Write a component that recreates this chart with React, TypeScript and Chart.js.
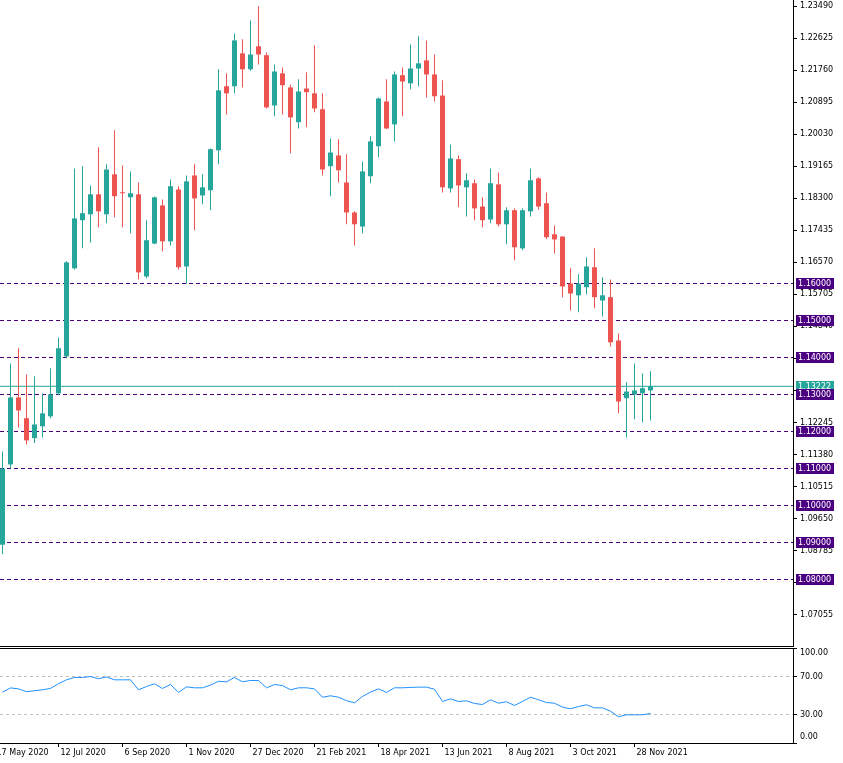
import React, { useEffect, useRef } from "react";
import { Chart, registerables } from "chart.js";

Chart.register(...registerables);

// Weekly candles, 24 May 2020 .. 12 Dec 2021 (index 0..81)
const opens = [
  1.0894, 1.1111, 1.1292, 1.1236, 1.1182, 1.1214, 1.1241, 1.1303, 1.1403, 1.1641,
  1.1771, 1.1787, 1.1841, 1.1787, 1.1895, 1.1846, 1.1833, 1.1841, 1.1619, 1.1708,
  1.1811, 1.1714, 1.1854, 1.1646, 1.1892, 1.1838, 1.1852, 1.196, 1.2133, 1.2133,
  1.2222, 1.2179, 1.2241, 1.2217, 1.2081, 1.2168, 1.213, 1.2036, 1.2127, 1.2114,
  1.2071, 1.1917, 1.1946, 1.1873, 1.1792, 1.1754, 1.189, 1.1971, 1.2092, 1.203,
  1.2163, 1.2141, 1.2181, 1.2203, 1.2165, 1.2108, 1.1857, 1.1936, 1.186, 1.1871,
  1.1808, 1.1773, 1.1868, 1.176, 1.1798, 1.1695, 1.1795, 1.1884, 1.1817, 1.1733,
  1.1727, 1.16, 1.1568, 1.159, 1.1644, 1.1554, 1.1563, 1.1446, 1.129, 1.13,
  1.1303, 1.1311,
];
const highs = [
  1.1146, 1.1384, 1.1425, 1.1354, 1.1349, 1.1303, 1.1371, 1.1454, 1.166, 1.1911,
  1.1917, 1.1865, 1.1968, 1.1922, 1.2014, 1.1919, 1.1903, 1.1873, 1.1771, 1.1835,
  1.1827, 1.1881, 1.1863, 1.1892, 1.1922, 1.1895, 1.1965, 1.2179, 1.2168, 1.2276,
  1.226, 1.2311, 1.2349, 1.2225, 1.2192, 1.2184, 1.2138, 1.2152, 1.2171, 1.2244,
  1.2114, 1.1992, 1.199, 1.1949, 1.1795, 1.193, 1.1998, 1.2103, 1.2152, 1.2173,
  1.2184, 1.2246, 1.2268, 1.2257, 1.2219, 1.2149, 1.1976, 1.1946, 1.1898, 1.1881,
  1.1833, 1.1911, 1.19, 1.1806, 1.1803, 1.1803, 1.1911, 1.1887, 1.1846, 1.1757,
  1.1727, 1.1641, 1.1625, 1.1671, 1.1695, 1.1617, 1.1611, 1.1465, 1.1333, 1.1384,
  1.1357, 1.1363,
];
const lows = [
  1.0868, 1.1101, 1.1211, 1.1165, 1.1169, 1.1184, 1.1236, 1.1298, 1.14, 1.1638,
  1.1695, 1.1711, 1.1752, 1.1763, 1.1779, 1.1752, 1.1736, 1.1611, 1.1614, 1.1706,
  1.1687, 1.1703, 1.1638, 1.16, 1.1744, 1.1814, 1.1798, 1.1922, 1.2057, 1.2114,
  1.213, 1.2175, 1.2192, 1.2073, 1.2052, 1.2057, 1.1952, 1.2019, 1.2022, 1.2063,
  1.1892, 1.1836, 1.1873, 1.176, 1.1703, 1.1736, 1.1871, 1.1941, 1.2017, 1.1984,
  1.2052, 1.2125, 1.2133, 1.2103, 1.2092, 1.1846, 1.1846, 1.1806, 1.1781, 1.1771,
  1.1752, 1.1763, 1.1754, 1.1706, 1.1663, 1.169, 1.1781, 1.18, 1.172, 1.1681,
  1.1563, 1.1527, 1.1522, 1.1571, 1.1533, 1.1511, 1.143, 1.1249, 1.1184, 1.1233,
  1.1225, 1.123,
];
const closes = [
  1.11, 1.1292, 1.1257, 1.1176, 1.1219, 1.1249, 1.13, 1.1425, 1.1657, 1.1776,
  1.179, 1.1841, 1.1795, 1.1908, 1.1836, 1.1844, 1.1844, 1.163, 1.1717, 1.1833,
  1.1714, 1.1863, 1.1644, 1.1876, 1.183, 1.186, 1.1963, 1.2122, 1.2114, 1.2257,
  1.2179, 1.2219, 1.2219, 1.2076, 1.2173, 1.2136, 1.2049, 1.2119, 1.2117, 1.2073,
  1.1908, 1.1954, 1.1906, 1.1792, 1.176, 1.1903, 1.1984, 1.21, 1.2019, 1.2165,
  1.2146, 1.2181, 1.2195, 1.2165, 1.2106, 1.186, 1.1938, 1.1865, 1.1879, 1.1803,
  1.1771, 1.1871, 1.176, 1.1798, 1.1698, 1.1798, 1.1879, 1.1808, 1.1725, 1.1719,
  1.1592, 1.1573, 1.16, 1.1646, 1.1563, 1.1568, 1.1441, 1.1281, 1.1308, 1.1311,
  1.1317, 1.13222,
];
const rsiValues = [
  53.5, 58, 57, 54, 55, 56, 57.5, 62.5, 66.5, 69,
  69, 70, 67.6, 69.6, 66.5, 66.5, 66.5, 56, 59.5, 62.3,
  57.4, 61.6, 53.2, 59.1, 58.1, 58.1, 60.9, 65, 64.4, 69,
  64.4, 65.8, 65.8, 58.1, 61.6, 60.5, 56, 58.1, 58.1, 57,
  48.2, 49.7, 48.2, 44.6, 42.3, 49, 53.5, 57, 53.2, 58.1,
  58.1, 58.5, 58.8, 58.8, 56.6, 43.7, 46.5, 43.7, 44.4, 41.6,
  40.5, 45.5, 41.9, 43.4, 39.5, 43.7, 48.2, 45.5, 42.6, 41.9,
  37.7, 36, 38.4, 40.2, 37, 37, 33.5, 27.6, 29.7, 29.7,
  29.7, 31,
];

const levelPrices = [1.16, 1.15, 1.14, 1.13, 1.12, 1.11, 1.1, 1.09, 1.08];
const currentPrice = 1.13222;
const priceTicks = [
  1.07055, 1.0792, 1.08785, 1.0965, 1.10515, 1.1138, 1.12245, 1.1311, 1.13975, 1.1484,
  1.15705, 1.1657, 1.17435, 1.183, 1.19165, 1.2003, 1.20895, 1.2176, 1.22625, 1.2349,
];
const rsiTicks = [100, 70, 30, 0];
const rsiLevels = [70, 30];
const dateTickIndex = [-1, 7, 15, 23, 31, 39, 47, 55, 63, 71, 79];
const dateLabels = [
  "17 May 2020", "12 Jul 2020", "6 Sep 2020", "1 Nov 2020", "27 Dec 2020", "21 Feb 2021",
  "18 Apr 2021", "13 Jun 2021", "8 Aug 2021", "3 Oct 2021", "28 Nov 2021",
];

// view settings
const X_MIN = -0.3125;
const X_MAX = 98.8125;
const PRICE_MAX = 1.236622;
const PRICE_MIN = 1.062027;
const GREEN = "#26A69A";
const RED = "#EF5350";
const INDIGO = "#4B0082";
const FONT = { family: "'DejaVu Sans', sans-serif", size: 8 };
const FONT_CSS = "8px 'DejaVu Sans', sans-serif";

const noPad = (s: any) => {
  s.paddingTop = 0;
  s.paddingBottom = 0;
  s.paddingLeft = 0;
  s.paddingRight = 0;
};

export default function App() {
  const mainRef = useRef<HTMLCanvasElement | null>(null);
  const subRef = useRef<HTMLCanvasElement | null>(null);

  useEffect(() => {
    const idx = opens.map((_, i) => i);
    const colors = idx.map((i) => (closes[i] >= opens[i] ? GREEN : RED));

    const mainOverlay = {
      id: "mainOverlay",
      afterDraw(chart: any) {
        const { ctx, chartArea } = chart;
        const y = chart.scales.y;
        ctx.save();
        ctx.strokeStyle = "#000";
        ctx.lineWidth = 1;
        ctx.beginPath();
        ctx.moveTo(0, chartArea.bottom + 0.5);
        ctx.lineTo(chartArea.right + 1, chartArea.bottom + 0.5);
        ctx.stroke();
        const drawBox = (price: number, bg: string) => {
          const py = Math.floor(y.getPixelForValue(price));
          const top = py - 5;
          ctx.fillStyle = bg;
          ctx.fillRect(chartArea.right + 3, top, 38, 11);
          ctx.fillStyle = "#fff";
          ctx.font = FONT_CSS;
          ctx.textAlign = "left";
          ctx.textBaseline = "middle";
          ctx.fillText(price.toFixed(5), chartArea.right + 5, top + 6);
        };
        drawBox(currentPrice, GREEN);
        levelPrices.forEach((p) => drawBox(p, INDIGO));
        ctx.restore();
      },
    };

    const mainChart = new Chart(mainRef.current as HTMLCanvasElement, {
      type: "bar",
      data: {
        datasets: [
          {
            type: "bar",
            data: idx.map((i) => ({ x: i, y: [lows[i], highs[i]] })) as any,
            backgroundColor: colors,
            barThickness: 1,
            maxBarThickness: 1,
            grouped: false,
            inflateAmount: 0,
            borderWidth: 0,
            order: 1,
          } as any,
          {
            type: "bar",
            data: idx.map((i) => ({ x: i, y: [opens[i], closes[i]] })) as any,
            backgroundColor: colors,
            barThickness: 5,
            maxBarThickness: 5,
            grouped: false,
            inflateAmount: 0,
            minBarLength: 1,
            borderWidth: 0,
            order: 0,
          } as any,
          ...levelPrices.map((p) => ({
            type: "line",
            data: [
              { x: X_MIN, y: p },
              { x: X_MAX, y: p },
            ],
            borderColor: INDIGO,
            borderWidth: 1,
            borderDash: [4, 3],
            pointRadius: 0,
            order: 2,
          })),
          {
            type: "line",
            data: [
              { x: X_MIN, y: currentPrice },
              { x: X_MAX, y: currentPrice },
            ],
            borderColor: GREEN,
            borderWidth: 1,
            pointRadius: 0,
            order: 2,
          } as any,
        ] as any,
      },
      options: {
        responsive: false,
        animation: false,
        devicePixelRatio: 1,
        events: [],
        layout: { padding: { left: 0, right: 0, top: 0, bottom: 1 } },
        plugins: { legend: { display: false }, tooltip: { enabled: false } },
        scales: {
          x: { type: "linear", min: X_MIN, max: X_MAX, display: false, offset: false },
          y: {
            type: "linear",
            position: "right",
            min: PRICE_MIN,
            max: PRICE_MAX,
            afterFit: (s: any) => {
              s.width = 50;
              noPad(s);
            },
            afterBuildTicks: (s: any) => {
              s.ticks = priceTicks.map((v) => ({ value: v }));
            },
            ticks: {
              callback: (v: any) => Number(v).toFixed(5),
              color: "#000",
              font: FONT,
              padding: 3,
              autoSkip: false,
            },
            grid: { display: true, drawOnChartArea: false, drawTicks: true, tickLength: 4, color: "#000", lineWidth: 1 },
            border: { display: true, color: "#000", width: 1 },
          },
        } as any,
      },
      plugins: [mainOverlay],
    });

    const subOverlay = {
      id: "subOverlay",
      afterDraw(chart: any) {
        const { ctx, chartArea } = chart;
        const y = chart.scales.y;
        ctx.save();
        ctx.strokeStyle = "#000";
        ctx.lineWidth = 1;
        ctx.beginPath();
        ctx.moveTo(0, chartArea.top + 0.5);
        ctx.lineTo(chartArea.right + 1, chartArea.top + 0.5);
        ctx.stroke();
        ctx.fillStyle = "#000";
        ctx.font = FONT_CSS;
        ctx.textAlign = "left";
        ctx.textBaseline = "middle";
        rsiTicks.forEach((v) => {
          let py = y.getPixelForValue(v);
          py = Math.max(chartArea.top + 5, Math.min(chartArea.bottom - 6, py));
          ctx.fillText(v.toFixed(2), chartArea.right + 7, py);
        });
        ctx.restore();
      },
    };

    const subChart = new Chart(subRef.current as HTMLCanvasElement, {
      type: "line",
      data: {
        datasets: [
          {
            data: idx.map((i) => ({ x: i, y: rsiValues[i] })),
            borderColor: "#1E90FF",
            borderWidth: 1,
            pointRadius: 0,
            tension: 0,
            order: 0,
          },
          ...rsiLevels.map((v) => ({
            data: [
              { x: X_MIN, y: v },
              { x: X_MAX, y: v },
            ],
            borderColor: "#C0C0C0",
            borderWidth: 1,
            borderDash: [3, 3],
            pointRadius: 0,
            order: 1,
          })),
        ] as any,
      },
      options: {
        responsive: false,
        animation: false,
        devicePixelRatio: 1,
        events: [],
        layout: { padding: { left: 0, right: 0, top: 1, bottom: 0 } },
        plugins: { legend: { display: false }, tooltip: { enabled: false } },
        scales: {
          x: {
            type: "linear",
            min: X_MIN,
            max: X_MAX,
            position: "bottom",
            offset: false,
            afterFit: (s: any) => {
              s.height = 20;
              noPad(s);
            },
            afterBuildTicks: (s: any) => {
              s.ticks = dateTickIndex.map((v) => ({ value: v }));
            },
            ticks: {
              callback: (_v: any, i: number) => dateLabels[i],
              align: "start",
              labelOffset: 2,
              padding: 1,
              autoSkip: false,
              maxRotation: 0,
              minRotation: 0,
              color: "#000",
              font: FONT,
            },
            grid: { display: true, drawOnChartArea: false, drawTicks: true, tickLength: 4, color: "#000" },
            border: { display: true, color: "#000", width: 1 },
          },
          y: {
            type: "linear",
            position: "right",
            min: 0,
            max: 100,
            afterFit: (s: any) => {
              s.width = 50;
              noPad(s);
            },
            afterBuildTicks: (s: any) => {
              s.ticks = rsiTicks.map((v) => ({ value: v }));
            },
            ticks: { display: false },
            grid: { display: true, drawOnChartArea: false, drawTicks: true, tickLength: 4, color: "#000" },
            border: { display: true, color: "#000", width: 1 },
          },
        } as any,
      },
      plugins: [subOverlay],
    });

    return () => {
      mainChart.destroy();
      subChart.destroy();
    };
  }, []);

  return (
    <div style={{ position: "fixed", left: 0, top: 0, width: 843, height: 763, background: "#fff" }}>
      <canvas
        ref={mainRef}
        width={843}
        height={647}
        style={{ position: "absolute", left: 0, top: 0, width: 843, height: 647 }}
      />
      <canvas
        ref={subRef}
        width={843}
        height={116}
        style={{ position: "absolute", left: 0, top: 647, width: 843, height: 116 }}
      />
    </div>
  );
}
